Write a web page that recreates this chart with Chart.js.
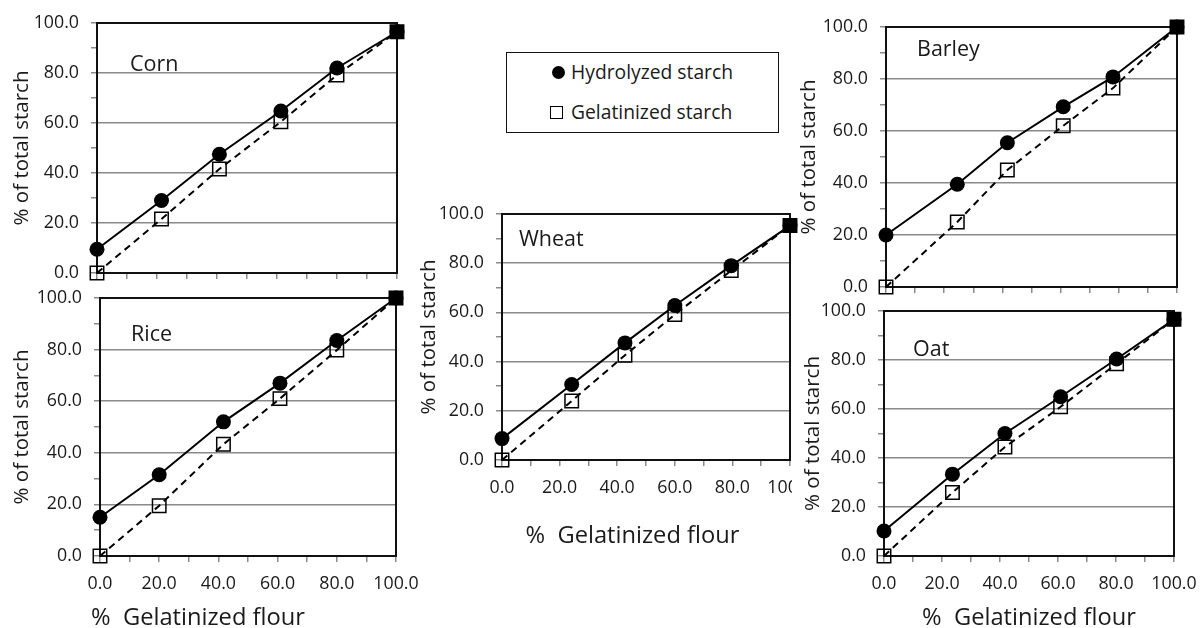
<!DOCTYPE html>
<html>
<head>
<meta charset="utf-8">
<script src="https://cdn.jsdelivr.net/npm/chart.js@4.4.1/dist/chart.umd.min.js"></script>
<style>
    html, body { margin: 0; padding: 0; background: #fff; }
    body { width: 1200px; height: 628px; position: relative; overflow: hidden; font-family: "Open Sans", sans-serif; color: #1a1a1a; }
    .panel { position: absolute; }
    .panel canvas { display: block; }
    #p-oat { background: #fff; }
    #legend { position: absolute; left: 506px; top: 52px; width: 273px; height: 81px; border: 1.5px solid #111; box-sizing: border-box; }
    #legend .txt { position: absolute; left: 64px; font-size: 19.3px; line-height: 22px; white-space: nowrap; }
    #legend .dot { position: absolute; left: 45px; top: 13px; width: 13px; height: 13px; border-radius: 50%; background: #000; }
    #legend .sq { position: absolute; left: 43px; top: 53px; width: 13px; height: 13px; border: 1.5px solid #000; box-sizing: border-box; }
</style>
</head>
<body>
<div class="panel" id="p-corn"><canvas id="cornChart"></canvas></div>
<div class="panel" id="p-rice"><canvas id="riceChart"></canvas></div>
<div class="panel" id="p-wheat"><canvas id="wheatChart"></canvas></div>
<div class="panel" id="p-barley"><canvas id="barleyChart"></canvas></div>
<div class="panel" id="p-oat"><canvas id="oatChart"></canvas></div>
<div id="legend">
    <span class="dot"></span><span class="txt" style="top:8px">Hydrolyzed starch</span>
    <span class="sq"></span><span class="txt" style="top:48px">Gelatinized starch</span>
</div>
<script>
// Dados (% farinha gelatinizada vs % do amido total)
const cornX = [0, 21.5, 40.8, 61.3, 80, 100];
const cornHydro = [9.5, 29, 47.5, 64.8, 82, 96.5];
const cornGel = [0, 21.6, 41.6, 60.5, 79.2, 96.5];

const riceX = [0, 20, 41.7, 60.8, 80, 100];
const riceHydro = [15, 31.5, 52, 67, 83.5, 100];
const riceGel = [0, 19.5, 43.3, 61, 79.8, 100];

const wheatX = [0, 24.2, 42.7, 60, 79.6, 100];
const wheatHydro = [8.7, 30.7, 47.6, 62.8, 79, 95.3];
const wheatGel = [0, 24, 42.6, 59.1, 77, 95.3];

const barleyX = [0, 24.5, 41.7, 60.9, 78, 100];
const barleyHydro = [20, 39.5, 55.5, 69.3, 80.8, 100];
const barleyGel = [0, 25, 45, 62, 76.5, 100];

const oatX = [0, 23.6, 41.7, 60.9, 80.2, 100];
const oatHydro = [10.2, 33.4, 50, 65, 80.4, 96.6];
const oatGel = [0, 25.9, 44.5, 60.9, 78.5, 96.6];

const Y_TITLE = '% of total starch';
const X_TITLE = '%  Gelatinized flour';

const TEXT = '#1a1a1a';
const GRID = '#8a8a8a';
const FONT = '"Open Sans", sans-serif';

// posição de cada painel na página
const PANELS = [
    { id: 'cornChart', div: 'p-corn', label: 'Corn', x: cornX, hydro: cornHydro, gel: cornGel,
      left: 10, top: 11, width: 399, height: 274, yW: 87, xH: 12, padR: 12, bottom: false, yPad: 0,
      lab: [33, 42], xt: null },
    { id: 'riceChart', div: 'p-rice', label: 'Rice', x: riceX, hydro: riceHydro, gel: riceGel,
      left: 10, top: 286, width: 412, height: 345, yW: 90, xH: 75, padR: 26, bottom: true, yPad: 0,
      lab: [31, 37], xt: [-50, 62] },
    { id: 'wheatChart', div: 'p-wheat', label: 'Wheat', x: wheatX, hydro: wheatHydro, gel: wheatGel,
      left: 417, top: 202, width: 385, height: 347, yW: 85, xH: 89, padR: 12, bottom: true, yPad: 0,
      lab: [17, 26], xt: [-13.5, 76.5] },
    { id: 'barleyChart', div: 'p-barley', label: 'Barley', x: barleyX, hydro: barleyHydro, gel: barleyGel,
      left: 797, top: 15, width: 392, height: 284, yW: 89, xH: 12, padR: 12, bottom: false, yPad: 0,
      lab: [31, 23], xt: null },
    { id: 'oatChart', div: 'p-oat', label: 'Oat', x: oatX, hydro: oatHydro, gel: oatGel,
      left: 792, top: 299, width: 408, height: 332, yW: 92, xH: 75, padR: 26, bottom: true, yPad: 9,
      lab: [29, 39], xt: [0, 62.5] }
];

// moldura preta da área do gráfico
const framePlugin = {
    id: 'frame',
    beforeDatasetsDraw(chart) {
        const { ctx, chartArea: a } = chart;
        ctx.save();
        ctx.lineWidth = 2;
        ctx.strokeStyle = '#111';
        ctx.strokeRect(a.left, a.top, a.right - a.left, a.bottom - a.top);
        ctx.restore();
    }
};

// nome do cereal dentro do painel + título do eixo x (deslocado como no original)
const panelTextPlugin = {
    id: 'panelText',
    beforeDatasetsDraw(chart, args, opts) {
        const { ctx, chartArea: a } = chart;
        ctx.save();
        ctx.fillStyle = TEXT;
        ctx.textBaseline = 'middle';
        ctx.font = '21.5px ' + FONT;
        ctx.fillText(opts.text, a.left + opts.dx, a.top + opts.dy);
        if (opts.xTitle) {
            ctx.font = '23.7px ' + FONT;
            ctx.textAlign = 'center';
            ctx.fillText(X_TITLE, (a.left + a.right) / 2 + opts.xTitle[0], a.bottom + opts.xTitle[1]);
        }
        ctx.restore();
    }
};

function points(xs, ys) {
    return xs.map((x, i) => ({ x: x, y: ys[i] }));
}

function initPanel(p) {
    const div = document.getElementById(p.div);
    div.style.left = p.left + 'px';
    div.style.top = p.top + 'px';
    const canvas = document.getElementById(p.id);
    canvas.width = p.width;
    canvas.height = p.height;

    const gelFill = p.x.map((v, i) => i === p.x.length - 1 ? '#000' : 'rgba(0,0,0,0)');

    new Chart(canvas, {
        type: 'line',
        data: {
            datasets: [
                {
                    label: 'Hydrolyzed starch',
                    data: points(p.x, p.hydro),
                    borderColor: '#000',
                    borderWidth: 2,
                    pointStyle: 'circle',
                    pointRadius: 7.5,
                    pointBackgroundColor: '#000',
                    pointBorderColor: '#000',
                    pointBorderWidth: 0,
                    clip: false
                },
                {
                    label: 'Gelatinized starch',
                    data: points(p.x, p.gel),
                    borderColor: '#000',
                    borderWidth: 2,
                    borderDash: [7, 5],
                    pointStyle: 'rect',
                    pointRadius: 9.5,
                    pointBackgroundColor: gelFill,
                    pointBorderColor: '#000',
                    pointBorderWidth: 1.5,
                    clip: false
                }
            ]
        },
        options: {
            responsive: false,
            animation: false,
            events: [],
            layout: { padding: { top: 12, right: p.padR, left: 0, bottom: 0 } },
            plugins: {
                legend: { display: false },
                tooltip: { enabled: false },
                panelText: { text: p.label, dx: p.lab[0], dy: p.lab[1], xTitle: p.xt }
            },
            scales: {
                x: {
                    type: 'linear',
                    min: 0,
                    max: 100,
                    afterFit: s => { s.height = p.xH; s.paddingLeft = 0; s.paddingRight = 0; },
                    border: { color: GRID, width: 1.5 },
                    grid: { color: 'rgba(0,0,0,0)', tickColor: GRID, tickLength: 6, lineWidth: 1.5 },
                    ticks: {
                        display: p.bottom,
                        stepSize: 10,
                        autoSkip: false,
                        maxRotation: 0,
                        padding: 11,
                        color: TEXT,
                        font: { family: FONT, size: 17.8 },
                        callback: v => v % 20 === 0 ? v.toFixed(1) : ''
                    }
                },
                y: {
                    min: 0,
                    max: 100,
                    afterFit: s => { s.width = p.yW; s.paddingTop = 0; s.paddingBottom = 0; },
                    border: { color: GRID, width: 1.5 },
                    grid: {
                        color: c => (c.tick && c.tick.value % 20 === 0) ? GRID : 'rgba(0,0,0,0)',
                        tickColor: GRID,
                        tickLength: 6,
                        lineWidth: 1.5
                    },
                    ticks: {
                        stepSize: 10,
                        autoSkip: false,
                        padding: 12,
                        color: TEXT,
                        font: { family: FONT, size: 17.8 },
                        callback: v => v % 20 === 0 ? v.toFixed(1) : ''
                    },
                    title: {
                        display: true,
                        text: Y_TITLE,
                        color: TEXT,
                        font: { family: FONT, size: 20.5 },
                        padding: { top: p.yPad, bottom: 0 }
                    }
                }
            }
        },
        plugins: [framePlugin, panelTextPlugin]
    });
}

PANELS.forEach(initPanel);
</script>
</body>
</html>
